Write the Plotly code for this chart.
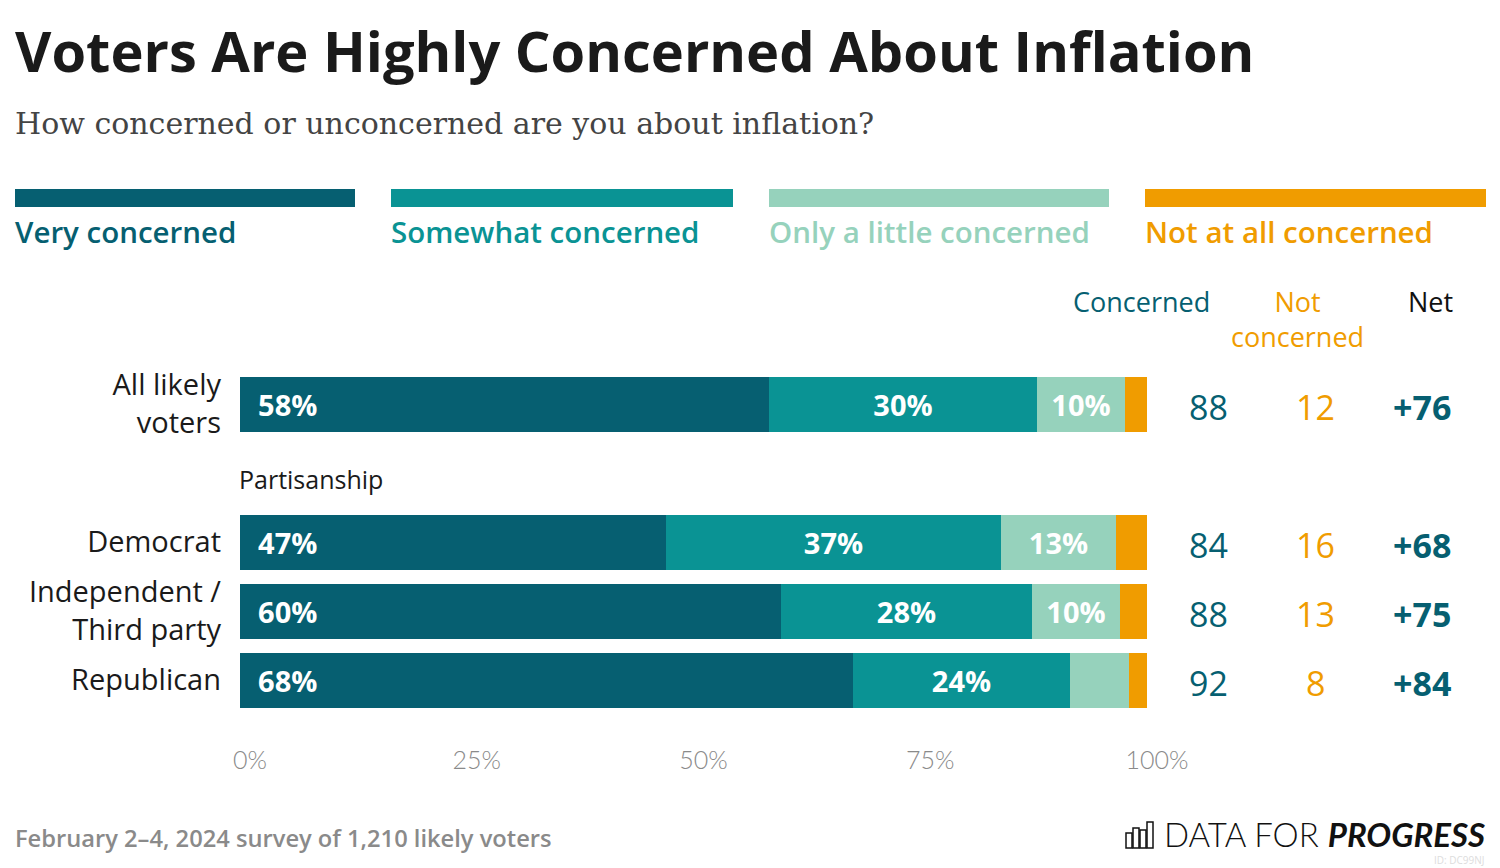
import plotly.graph_objects as go

# ---------------- data ----------------
groups = ["All likely voters", "Democrat", "Independent / Third party", "Republican"]
group_ticktext = ["All likely<br>voters", "Democrat", "Independent /<br>Third party", "Republican"]
spacer = "Partisanship"
category_order = ["All likely voters", "Partisanship", "Democrat", "Independent / Third party", "Republican"]

series_names = ["Very concerned", "Somewhat concerned", "Only a little concerned", "Not at all concerned"]
very = [58.3, 47.0, 59.6, 67.6]
somewhat = [29.6, 36.9, 27.7, 23.9]
little = [9.7, 12.7, 9.7, 6.5]
not_at_all = [2.4, 3.4, 3.0, 2.0]

concerned = [88, 84, 88, 92]
not_concerned = [12, 16, 13, 8]
net = [c - n for c, n in zip(concerned, not_concerned)]

x_ticks = [0, 25, 50, 75, 100]
x_ticktext = ["0%", "25%", "50%", "75%", "100%"]

colors = ["#065f71", "#0a9394", "#96d2bc", "#f09c00"]

# ---------------- helpers ----------------
W, H = 1500, 868
def px(x):
    return x / W
def py(y):
    return 1 - y / H

FONT = "Open Sans"
NBSP = "\u00a0"

fig = go.Figure()

series = [very, somewhat, little, not_at_all]
for i, (name, vals) in enumerate(zip(series_names, series)):
    if i == 0:
        text = [NBSP * 2 + f"{round(v)}%" for v in vals]
        anchor = "start"
    elif i in (1, 2):
        text = [f"{round(v)}%" if v >= 8 else "" for v in vals]
        anchor = "middle"
    else:
        text = ["" for v in vals]
        anchor = "middle"
    fig.add_trace(go.Bar(
        y=groups, x=vals, name=name, orientation="h",
        marker=dict(color=colors[i], line=dict(width=0)),
        text=text, textposition="inside", insidetextanchor=anchor,
        textangle=0,
        textfont=dict(family=FONT, size=29, color="white", weight="bold"),
        width=0.81, hoverinfo="skip", showlegend=False,
    ))

# ---------------- layout ----------------
y_top, y_bot = 369.5, 714.5
fig.update_layout(
    width=W, height=H, autosize=False,
    margin=dict(l=0, r=0, t=0, b=0, autoexpand=False),
    paper_bgcolor="white", plot_bgcolor="white",
    barmode="stack", bargap=0,
    uniformtext=dict(minsize=29, mode="show"),
    font=dict(family=FONT, color="#1a1a1a"),
    xaxis=dict(
        domain=[px(240), px(1147)], range=[0, 100],
        tickvals=x_ticks, ticktext=x_ticktext,
        tickfont=dict(family="Lato", size=25, color="#8a8a8a", weight=300),
        showgrid=False, zeroline=False, showline=False,
        ticks="", ticklabelstandoff=28, ticklabelshift=10,
        automargin=False, fixedrange=True,
    ),
    yaxis=dict(
        domain=[py(y_bot), py(y_top)],
        type="category", categoryorder="array", categoryarray=category_order,
        range=[4.5, -0.5],
        tickvals=groups, ticktext=group_ticktext,
        tickfont=dict(family=FONT, size=29, color="#1a1a1a"),
        showgrid=False, zeroline=False, showline=False,
        ticks="", ticklabelstandoff=18,
        automargin=False, fixedrange=True,
    ),
)

ann = []
# title & subtitle
ann.append(dict(text="Voters Are Highly Concerned About Inflation", x=px(13), y=py(50),
                xanchor="left", yanchor="middle",
                font=dict(family=FONT, size=56, color="#1a1a1a", weight="bold")))
ann.append(dict(text="How concerned or unconcerned are you about inflation?", x=px(13), y=py(124),
                xanchor="left", yanchor="middle",
                font=dict(family="DejaVu Serif", size=30, color="#444444")))

# legend
leg_x = [(15, 355), (391, 733), (769, 1109), (1145, 1486)]
shapes = []
for (x0, x1), name, c in zip(leg_x, series_names, colors):
    shapes.append(dict(type="rect", xref="paper", yref="paper",
                       x0=px(x0), x1=px(x1), y0=py(207), y1=py(189),
                       fillcolor=c, line=dict(width=0)))
    ann.append(dict(text=name, x=px(x0 - 2), y=py(231), xanchor="left", yanchor="middle",
                    font=dict(family=FONT, size=29.5, color=c, weight=600)))

# column headers
ann.append(dict(text="Concerned", x=px(1141), y=py(301), xanchor="center", yanchor="middle",
                font=dict(family=FONT, size=27, color=colors[0])))
ann.append(dict(text="Not<br>concerned", x=px(1297), y=py(319), xanchor="center", yanchor="middle",
                font=dict(family=FONT, size=27, color=colors[3])))
ann.append(dict(text="Net", x=px(1430), y=py(301), xanchor="center", yanchor="middle",
                font=dict(family=FONT, size=27, color="#111111")))

# column values
for g, c, n, d in zip(groups, concerned, not_concerned, net):
    ann.append(dict(text=f"{c}", xref="paper", yref="y", x=px(1208), y=g, yshift=-3,
                    xanchor="center", yanchor="middle",
                    font=dict(family=FONT, size=34, color=colors[0])))
    ann.append(dict(text=f"{n}", xref="paper", yref="y", x=px(1315), y=g, yshift=-3,
                    xanchor="center", yanchor="middle",
                    font=dict(family=FONT, size=34, color=colors[3])))
    ann.append(dict(text=f"{d:+d}", xref="paper", yref="y", x=px(1422), y=g, yshift=-3,
                    xanchor="center", yanchor="middle",
                    font=dict(family=FONT, size=34, color=colors[0], weight="bold")))

# Partisanship section label
ann.append(dict(text="Partisanship", xref="x", yref="y", x=0, y=spacer, yshift=-6, xshift=-3,
                xanchor="left", yanchor="middle",
                font=dict(family=FONT, size=25, color="#1a1a1a")))

# footer
ann.append(dict(text="February 2\u20134, 2024 survey of 1,210 likely voters", x=px(13), y=py(838),
                xanchor="left", yanchor="middle",
                font=dict(family=FONT, size=23.7, color="#8a8a8a", weight=600)))
ann.append(dict(text="DATA FOR <b><i>PROGRESS</i></b>", x=px(1487), y=py(834),
                xanchor="right", yanchor="middle",
                font=dict(family="Lato", size=33, color="#111111", weight=300)))
ann.append(dict(text="ID: DC99NJ", x=px(1486), y=py(860),
                xanchor="right", yanchor="middle",
                font=dict(family=FONT, size=10, color="#dddddd")))

# logo icon (small outlined bars)
icon_bars = [(1126, 1132, 833), (1133, 1139, 828), (1140, 1146, 830), (1147, 1153, 822)]
for x0, x1, top in icon_bars:
    shapes.append(dict(type="rect", xref="paper", yref="paper",
                       x0=px(x0), x1=px(x1), y0=py(848), y1=py(top),
                       fillcolor="white", line=dict(width=1.5, color="#111111")))

for a in ann:
    a.setdefault("xref", "paper")
    a.setdefault("yref", "paper")
    a["showarrow"] = False
fig.update_layout(annotations=ann, shapes=shapes)

fig.write_html(
    "out.html",
    config={"displayModeBar": False, "responsive": False},
    post_script="document.body.style.margin='0';document.body.style.overflow='hidden';",
)
